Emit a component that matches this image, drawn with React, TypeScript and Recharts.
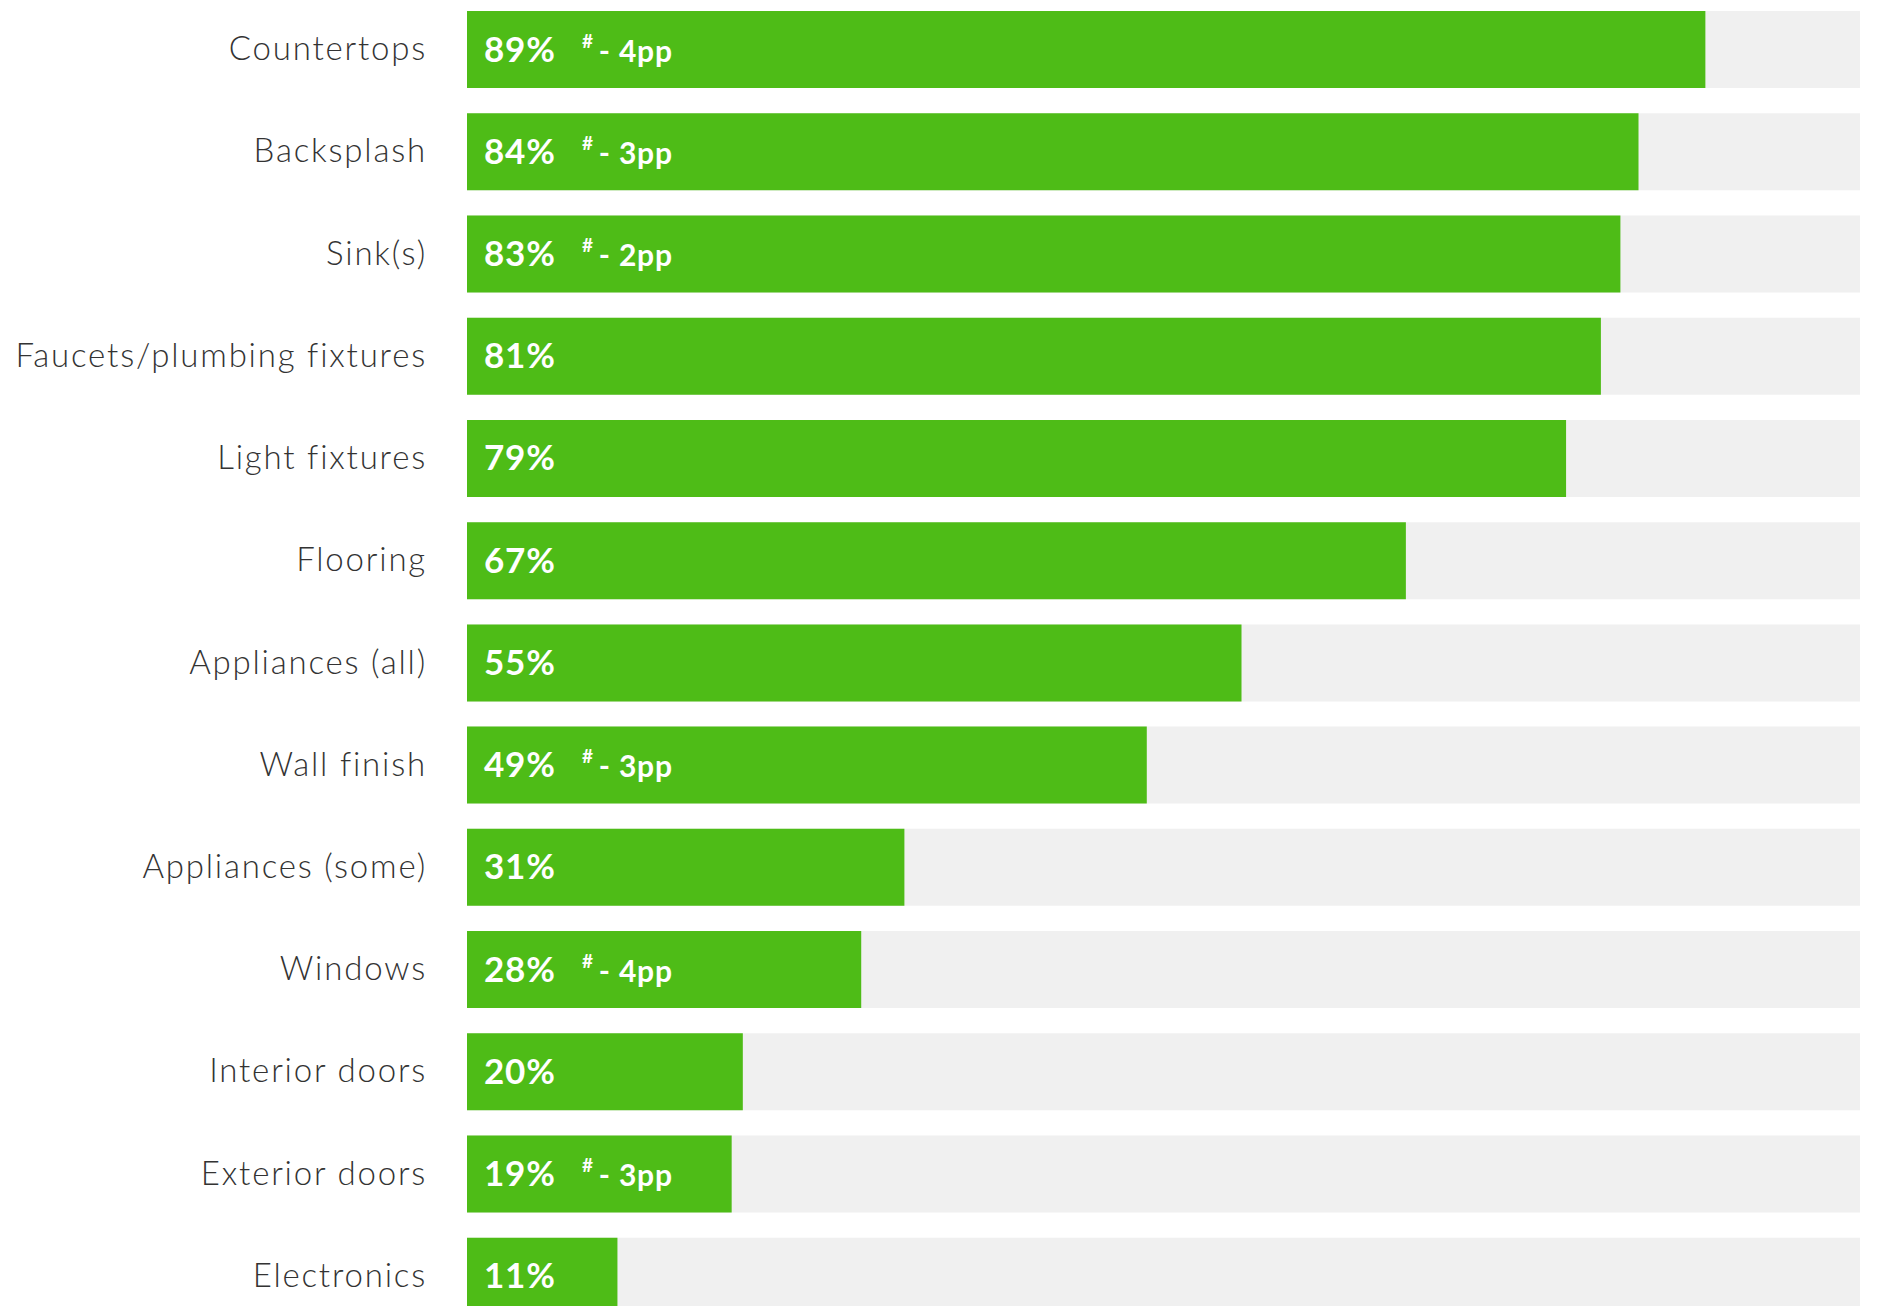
import React from 'react';
import { BarChart, Bar, XAxis, YAxis } from 'recharts';

const categories = [
  'Countertops',
  'Backsplash',
  'Sink(s)',
  'Faucets/plumbing fixtures',
  'Light fixtures',
  'Flooring',
  'Appliances (all)',
  'Wall finish',
  'Appliances (some)',
  'Windows',
  'Interior doors',
  'Exterior doors',
  'Electronics',
];

const values = [88.9, 84.1, 82.8, 81.4, 78.9, 67.4, 55.6, 48.8, 31.4, 28.3, 19.8, 19.0, 10.8];

const valueLabels = ['89%', '84%', '83%', '81%', '79%', '67%', '55%', '49%', '31%', '28%', '20%', '19%', '11%'];

const changeLabels = ['- 4pp', '- 3pp', '- 2pp', '', '', '', '', '- 3pp', '', '- 4pp', '', '- 3pp', ''];

const xTicks = [0, 100];

const data = categories.map((name, i) => ({
  name,
  value: values[i],
  label: valueLabels[i],
  change: changeLabels[i],
}));

const GREEN = '#4EBC17';
const GREY = '#F0F0F0';
const FONT = 'Lato, "Open Sans", sans-serif';

const CategoryTick = (props: any) => {
  const { x, y, payload } = props;
  return (
    <text
      x={x - 32}
      y={y - 2}
      textAnchor="end"
      dominantBaseline="central"
      fill="#333333"
      fontFamily={FONT}
      fontWeight={300}
      fontSize={33}
      letterSpacing={1.8}
    >
      {payload.value}
    </text>
  );
};

const renderLabel = (props: any) => {
  const { x, y, height, index } = props;
  const d = data[index];
  const baseline = y + height / 2 + 12;
  return (
    <g>
      <text
        x={x + 17}
        y={baseline}
        fill="#FFFFFF"
        fontFamily={FONT}
        fontWeight={700}
        fontSize={35}
        letterSpacing={0.8}
      >
        {d.label}
      </text>
      {d.change ? (
        <text
          x={x + 115}
          y={baseline}
          fill="#FFFFFF"
          fontFamily={FONT}
          fontWeight={700}
          fontSize={30}
          letterSpacing={0.8}
        >
          <tspan fontSize={19} dy={-14}>#</tspan>
          <tspan dy={14} dx={5}>{d.change}</tspan>
        </text>
      ) : null}
    </g>
  );
};

export default function App() {
  return (
    <div
      style={{
        position: 'absolute',
        left: 0,
        top: 0,
        width: 1878,
        height: 1306,
        overflow: 'hidden',
        background: '#ffffff',
      }}
    >
      <div style={{ position: 'relative', top: -2 }}>
        <BarChart
          width={1878}
          height={1329}
          data={data}
          layout="vertical"
          margin={{ top: 0, right: 18, bottom: 0, left: 0 }}
        >
          <XAxis type="number" domain={[0, 100]} ticks={xTicks} hide />
          <YAxis
            type="category"
            dataKey="name"
            width={467}
            axisLine={false}
            tickLine={false}
            tick={<CategoryTick />}
            interval={0}
          />
          <Bar
            dataKey="value"
            fill={GREEN}
            barSize={77}
            background={{ fill: GREY }}
            isAnimationActive={false}
            label={renderLabel}
          />
        </BarChart>
      </div>
    </div>
  );
}
